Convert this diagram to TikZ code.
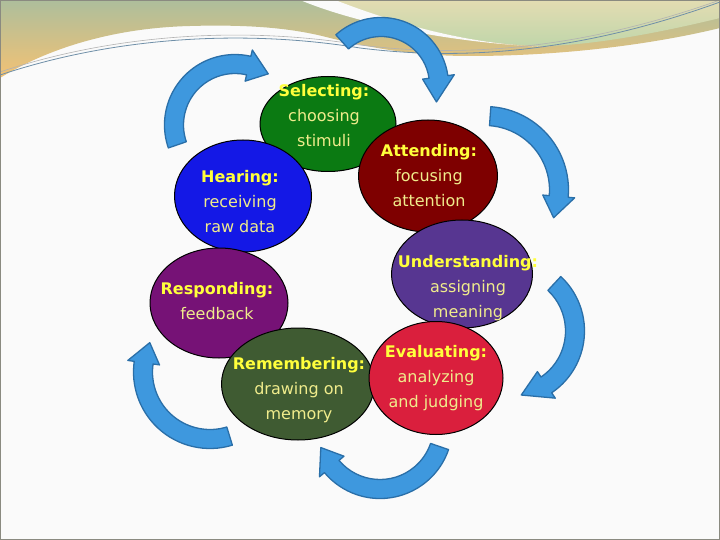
\documentclass[tikz,border=0pt]{standalone}
\usepackage{fontspec}
\setmainfont{DejaVu Sans}
\usetikzlibrary{shapes.geometric, positioning, calc}
\definecolor{arrowblue}{HTML}{3E98DE}
\definecolor{arrowedge}{HTML}{2A6FA8}
\definecolor{titleyellow}{HTML}{FFFF3C}
\definecolor{textyellow}{HTML}{F0EC8C}
\definecolor{selgreen}{HTML}{0B7A12}
\definecolor{attred}{HTML}{7E0000}
\definecolor{hearblue}{HTML}{1418E6}
\definecolor{undpurple}{HTML}{573691}
\definecolor{respurple}{HTML}{761276}
\definecolor{remgreen}{HTML}{3F5B32}
\definecolor{evalred}{HTML}{DA1F3D}
\definecolor{bandgreen}{HTML}{ADBE9C}
\definecolor{bandorange}{HTML}{F3C274}
\definecolor{bandsand}{HTML}{E3DCB2}
\definecolor{bandlight}{HTML}{C0D6AA}
\definecolor{swooshline}{HTML}{6F8FA8}
\definecolor{framegray}{HTML}{8A8A80}

% curved block arrow: cx, cy, radius, start angle, head base angle, tip angle
\newcommand{\cyclearrow}[6]{%
  \filldraw[looparrow] ($(#1,#2)+({#4}:{#3+9.5})$) arc[start angle=#4, end angle=#5, radius=#3+9.5]
    -- ($(#1,#2)+({#5}:{#3+16})$) -- ($(#1,#2)+({#6}:{#3})$)
    -- ($(#1,#2)+({#5}:{#3-16})$) -- ($(#1,#2)+({#5}:{#3-9.5})$)
    arc[start angle=#5, end angle=#4, radius=#3-9.5] -- cycle;}

\begin{document}
\begin{tikzpicture}[
    x=1pt, y=-1pt,
    stage/.style={ellipse, draw=black, line width=1pt, inner sep=0pt},
    caption/.style={align=center, font=\fontsize{16}{25}\selectfont, text=textyellow},
    looparrow/.style={fill=arrowblue, draw=arrowedge, line width=1.3pt, line join=round}
]
\useasboundingbox (0,0) rectangle (720,540);
\fill[white!98!black] (0,0) rectangle (720,540);

% Header band
\shade[top color=bandgreen, bottom color=bandorange]
  (0,0) -- (720,0) -- (720,28) .. controls (650,45) and (560,56) .. (470,56)
  .. controls (420,56) and (380,50) .. (330,38) .. controls (300,30) and (260,24) .. (190,26)
  .. controls (110,28) and (45,50) .. (0,78) -- cycle;
\shade[top color=bandsand, bottom color=bandlight]
  (330,0) -- (720,0) -- (720,18) .. controls (650,35) and (590,45) .. (545,46)
  .. controls (470,45) and (400,25) .. (330,0) -- cycle;
\fill[white!98!black] (300,0) .. controls (360,25) and (460,44) .. (550,47)
  .. controls (470,45) and (400,25) .. (335,0) -- cycle;
\draw[swooshline, line width=0.8pt] (0,75) .. controls (120,35) and (250,30) .. (360,48)
  .. controls (440,58) and (560,60) .. (720,2);
\draw[gray!60, line width=0.6pt] (0,72) .. controls (120,32) and (250,27) .. (360,45)
  .. controls (440,55) and (560,57) .. (720,0);

% Arrows
\cyclearrow{235}{125}{61}{161}{283}{303}
\cyclearrow{381}{85}{58}{228}{352}{377}
\cyclearrow{485}{190}{74}{274}{365}{382}
\cyclearrow{510}{331}{65}{-47}{56}{80}
\cyclearrow{380}{426}{63}{19}{140}{160}
\cyclearrow{210}{372}{67}{73}{188}{206}

% Stages
\node[stage, fill=selgreen, minimum width=136, minimum height=95] (sel) at (328,124) {};
\node[stage, fill=hearblue, minimum width=137, minimum height=112] (hear) at (243,196) {};
\node[stage, fill=attred, minimum width=139, minimum height=112] (att) at (428,176) {};
\node[stage, fill=undpurple, minimum width=141, minimum height=108] (und) at (462,274) {};
\node[stage, fill=respurple, minimum width=138, minimum height=110] (resp) at (219,303) {};
\node[stage, fill=remgreen, minimum width=153, minimum height=112] (rem) at (298,384) {};
\node[stage, fill=evalred, minimum width=134, minimum height=113] (eval) at (436,378) {};

% Texts
\node[caption] (seltext) at (324,116) {\textbf{\color{titleyellow}Selecting:}\\choosing\\stimuli};
\node[caption] (hear text) at (240,202) {\textbf{\color{titleyellow}Hearing:}\\receiving\\raw data};
\node[caption] (atttext) at (429,176) {\textbf{\color{titleyellow}Attending:}\\focusing\\attention};
\node[caption] (undtext) at (468,288) {\textbf{\color{titleyellow}Understanding:}\\assigning\\meaning};
\node[caption] (resptext) at (217,301) {\textbf{\color{titleyellow}Responding:}\\feedback};
\node[caption] (remtext) at (299,390) {\textbf{\color{titleyellow}Remembering:}\\drawing on\\memory};
\node[caption] (evaltext) at (436,378) {\textbf{\color{titleyellow}Evaluating:}\\analyzing\\and judging};

\draw[framegray, line width=1.2pt] (0.6,0.6) rectangle (719.4,539.4);
\end{tikzpicture}
\end{document}
